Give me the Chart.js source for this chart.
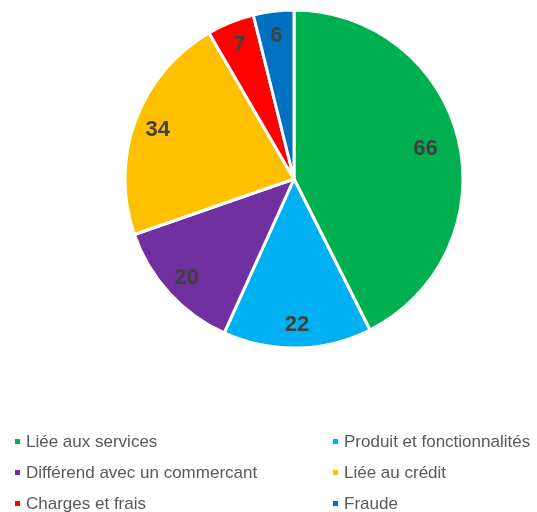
<!DOCTYPE html>
<html><head><meta charset="utf-8">
<script src="https://cdn.jsdelivr.net/npm/chart.js@4.4.0/dist/chart.umd.min.js"></script>
<style>html,body{margin:0;padding:0;background:#fff}#wrap{width:537px;height:512px;position:relative}</style>
</head><body><div id="wrap"><canvas id="c" width="537" height="512"></canvas></div>
<script>
const categories = ["Liée aux services","Produit et fonctionnalités","Différend avec un commercant","Liée au crédit","Charges et frais","Fraude"];
const values = [66,22,20,34,7,6];
const colors = ["#00B050","#00B0F0","#7030A0","#FFC000","#FF0000","#0070C0"];

const labelPlugin = {
  id:'sliceLabels',
  afterDatasetsDraw(chart){
    const ctx = chart.ctx;
    const meta = chart.getDatasetMeta(0);
    ctx.save();
    ctx.font = 'bold 22px "Liberation Sans", Arial, sans-serif';
    ctx.fillStyle = '#404040';
    ctx.textAlign = 'center';
    ctx.textBaseline = 'middle';
    meta.data.forEach((arc,i)=>{
      const p = arc.getProps(['x','y','startAngle','endAngle','outerRadius'],true);
      const mid = (p.startAngle+p.endAngle)/2;
      const f = values[i] > 50 ? 0.8 : 0.86;
      const r = p.outerRadius*f;
      ctx.fillText(String(values[i]), p.x+Math.cos(mid)*r, p.y+Math.sin(mid)*r+1);
    });
    ctx.restore();
  }
};
const legendPlugin = {
  id:'customLegend',
  afterDraw(chart){
    const ctx = chart.ctx;
    ctx.save();
    ctx.font = '17px "Liberation Sans", Arial, sans-serif';
    ctx.textBaseline = 'middle';
    ctx.textAlign = 'left';
    const colX = [15, 333];
    const rowY = [441, 472, 503];
    categories.forEach((c,i)=>{
      const x = colX[i%2], y = rowY[Math.floor(i/2)];
      ctx.fillStyle = colors[i];
      ctx.fillRect(x, y-2, 5, 5);
      ctx.fillStyle = '#595959';
      ctx.fillText(c, x+11, y+1);
    });
    ctx.restore();
  }
};
new Chart(document.getElementById('c'),{
  type:'pie',
  data:{labels:categories,datasets:[{data:values,backgroundColor:colors,borderColor:'#ffffff',borderWidth:3}]},
  options:{
    responsive:false,animation:false,
    layout:{padding:{left:123.5,right:72.5,top:8.5,bottom:162.5}},
    plugins:{legend:{display:false},tooltip:{enabled:false}}
  },
  plugins:[labelPlugin,legendPlugin]
});
</script></body></html>
